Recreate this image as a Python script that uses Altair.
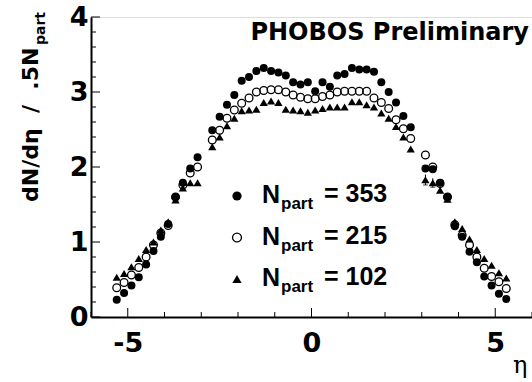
import altair as alt
import pandas as pd

# ---- data ----
eta = [-5.3, -5.1, -4.9, -4.7, -4.5, -4.3, -4.1, -3.9,
       -3.7, -3.5, -3.3, -3.1,
       -2.7, -2.5, -2.3, -2.1, -1.9, -1.7, -1.5, -1.3, -1.1, -0.9, -0.7, -0.5, -0.3, -0.1,
       0.1, 0.3, 0.5, 0.7, 0.9, 1.1, 1.3, 1.5, 1.7, 1.9, 2.1, 2.3, 2.5, 2.7,
       3.1, 3.3, 3.5, 3.7,
       3.9, 4.1, 4.3, 4.5, 4.7, 4.9, 5.1, 5.3]

y353 = [0.23, 0.32, 0.42, 0.53, 0.70, 0.88, 1.07, 1.24,
        1.60, 1.79, 1.98, 2.13,
        2.49, 2.67, 2.83, 2.96, 3.15, 3.20, 3.28, 3.32, 3.28, 3.26, 3.22, 3.13, 3.10, 3.13,
        3.01, 3.13, 3.07, 3.22, 3.24, 3.32, 3.30, 3.30, 3.27, 3.13, 3.00, 2.86, 2.68, 2.53,
        1.98, 1.97, 1.79, 1.60,
        1.21, 1.07, 0.87, 0.73, 0.54, 0.42, 0.31, 0.24]

y215 = [0.39, 0.46, 0.56, 0.66, 0.80, 0.96, 1.12, 1.22,
        1.60, 1.76, 1.92, 2.00,
        2.36, 2.49, 2.65, 2.76, 2.85, 2.92, 3.00, 3.02, 3.03, 3.03, 3.00, 2.96, 2.93, 2.91,
        2.91, 2.94, 2.96, 3.00, 3.01, 3.01, 3.01, 3.01, 2.92, 2.86, 2.78, 2.63, 2.51, 2.38,
        2.16, 2.00, 1.78, 1.60,
        1.23, 1.09, 0.96, 0.80, 0.65, 0.54, 0.47, 0.38]

y102 = [0.53, 0.58, 0.67, 0.78, 0.90, 1.00, 1.16, 1.27,
        1.56, 1.72, 1.79, 1.79,
        2.27, 2.40, 2.55, 2.65, 2.75, 2.76, 2.77, 2.86, 2.88, 2.86, 2.77, 2.76, 2.75, 2.73,
        2.76, 2.78, 2.80, 2.80, 2.80, 2.87, 2.87, 2.83, 2.80, 2.72, 2.65, 2.54, 2.40, 2.24,
        1.83, 1.79, 1.69, 1.57,
        1.27, 1.18, 1.04, 0.90, 0.78, 0.69, 0.59, 0.52]

# a few visible error bars (N_part = 102)
err_eta = [3.1, 3.3]
err_val = [0.07, 0.06]
err_y = [1.83, 1.79]

npart_labels = ["353", "215", "102"]

x_major = [-5, 0, 5]
x_minor = [-6, -4, -3, -2, -1, 1, 2, 3, 4, 6]
y_major = [0, 1, 2, 3, 4]
y_minor = [0.2, 0.4, 0.6, 0.8, 1.2, 1.4, 1.6, 1.8, 2.2, 2.4, 2.6, 2.8,
           3.2, 3.4, 3.6, 3.8]

# ---- chart ----
FONT = "DejaVu Sans"
LFONT = "Liberation Sans"
xs = alt.Scale(domain=[-6, 6], nice=False, zero=False)
ys = alt.Scale(domain=[0, 4], nice=False, zero=False)

df = pd.DataFrame({"eta": eta, "y353": y353, "y215": y215, "y102": y102})
err_df = pd.DataFrame({"eta": err_eta, "y": err_y, "e": err_val})
err_df["lo"] = err_df["y"] - err_df["e"]
err_df["hi"] = err_df["y"] + err_df["e"]

xaxis = alt.Axis(values=x_major, ticks=False, grid=False, title=None,
                 labelFont=FONT, labelFontWeight="bold", labelFontSize=27,
                 labelColor="black", labelPadding=13, domainColor="black",
                 domainWidth=2, labelFlush=False, labelExpr="'' + datum.value")
yaxis = alt.Axis(values=y_major, ticks=False, grid=False, title=None,
                 labelFont=FONT, labelFontWeight="bold", labelFontSize=27,
                 labelColor="black", labelPadding=3, domainColor="black",
                 domainWidth=2, labelFlush=False, labelExpr="'' + datum.value")

base = alt.Chart(df)

axes_layer = base.mark_point(opacity=0).encode(
    x=alt.X("eta:Q", scale=xs, axis=xaxis),
    y=alt.Y("y353:Q", scale=ys, axis=yaxis),
)

p353 = base.mark_point(shape="circle", filled=True, size=64, color="black",
                       opacity=1).encode(
    x=alt.X("eta:Q", scale=xs), y=alt.Y("y353:Q", scale=ys))
p215 = base.mark_point(shape="circle", filled=False, size=60, color="black",
                       strokeWidth=1.3, opacity=1).encode(
    x=alt.X("eta:Q", scale=xs), y=alt.Y("y215:Q", scale=ys))
p102 = base.mark_point(shape="triangle-up", filled=True, size=68, color="black",
                       opacity=1).encode(
    x=alt.X("eta:Q", scale=xs), y=alt.Y("y102:Q", scale=ys))

errs = alt.Chart(err_df).mark_rule(color="black", strokeWidth=1).encode(
    x=alt.X("eta:Q", scale=xs), y=alt.Y("lo:Q", scale=ys), y2="hi:Q")
caps = alt.Chart(err_df).mark_tick(color="black", thickness=1, size=5,
                                   orient="horizontal").encode(
    x=alt.X("eta:Q", scale=xs), y=alt.Y("lo:Q", scale=ys))

# inward ticks
xmaj = alt.Chart(pd.DataFrame({"t": x_major})).mark_rule(color="black", strokeWidth=1).encode(
    x=alt.X("t:Q", scale=xs), y=alt.value(300), y2=alt.value(291))
xmin = alt.Chart(pd.DataFrame({"t": x_minor})).mark_rule(color="black", strokeWidth=1).encode(
    x=alt.X("t:Q", scale=xs), y=alt.value(300), y2=alt.value(295))
ymaj = alt.Chart(pd.DataFrame({"t": y_major})).mark_rule(color="black", strokeWidth=1).encode(
    y=alt.Y("t:Q", scale=ys), x=alt.value(0), x2=alt.value(9))
ymin = alt.Chart(pd.DataFrame({"t": y_minor})).mark_rule(color="black", strokeWidth=1).encode(
    y=alt.Y("t:Q", scale=ys), x=alt.value(0), x2=alt.value(5))

def txt(s, x, y, size, weight="bold", align="left", angle=0, font=FONT, baseline="alphabetic"):
    kw = dict(font=font, fontSize=size, fontWeight=weight, align=align,
              baseline=baseline, color="black")
    if angle:
        kw["angle"] = angle
    return alt.Chart(pd.DataFrame({"a": [0]})).mark_text(**kw).encode(
        x=alt.value(x), y=alt.value(y), text=alt.value(s))

texts = [
    txt("PHOBOS Preliminary", 438, 22.5, 24, align="right"),
    txt("\u03b7", 422, 356, 24, weight="normal", font="DejaVu Serif"),
    txt("dN/d\u03b7\u00a0\u00a0/\u00a0\u00a0.5N", -53, 185, 22, angle=270),
    txt("part", -46, 28, 14, angle=270),
]

# legend
leg_y = [179, 220.5, 262]
leg_layers = []
leg_layers.append(alt.Chart(pd.DataFrame({"a": [0]})).mark_point(
    shape="circle", filled=True, size=85, color="black", opacity=1).encode(
    x=alt.value(146), y=alt.value(leg_y[0])))
leg_layers.append(alt.Chart(pd.DataFrame({"a": [0]})).mark_point(
    shape="circle", filled=False, size=80, color="black", strokeWidth=1.3, opacity=1).encode(
    x=alt.value(146), y=alt.value(leg_y[1])))
leg_layers.append(alt.Chart(pd.DataFrame({"a": [0]})).mark_point(
    shape="triangle-up", filled=True, size=85, color="black", opacity=1).encode(
    x=alt.value(146), y=alt.value(leg_y[2])))
for ly, lab in zip(leg_y, npart_labels):
    leg_layers.append(txt("N", 171, ly + 7, 25, font=LFONT))
    leg_layers.append(txt("part", 190, ly + 13, 17, font=LFONT))
    leg_layers.append(txt("= " + lab, 233, ly + 6, 25, font=LFONT))

chart = alt.layer(
    axes_layer, xmin, xmaj, ymin, ymaj, p353, p215, p102, errs, caps,
    *texts, *leg_layers
).properties(
    width=441, height=300,
    padding={"left": 91, "top": 17, "right": 0, "bottom": 65},
    autosize=alt.AutoSizeParams(type="none"),
).configure_view(
    stroke="black", strokeWidth=1.5
).configure(background="white")

chart.save("out.html", embed_options={"renderer": "svg", "actions": False})
